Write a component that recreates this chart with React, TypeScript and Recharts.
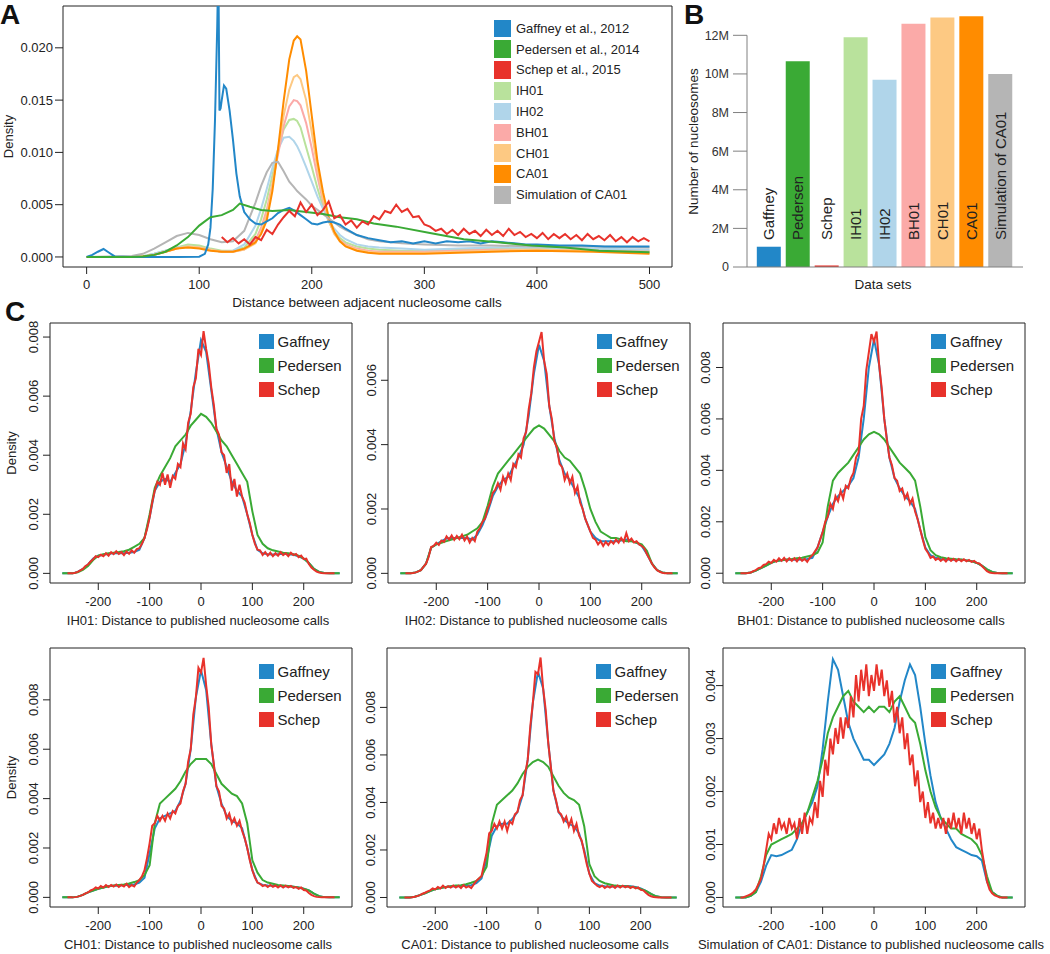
import React from "react";
import {
  LineChart,
  Line,
  XAxis,
  YAxis,
  ReferenceArea,
  ReferenceLine,
  Label,
  BarChart,
  Bar,
  Cell,
  LabelList,
} from "recharts";

const FONT = "'Liberation Sans', Arial, Helvetica, sans-serif";
const INK = "#222";
const AXIS_GRAY = "#808080";

// palette (same order as the data sets)
const BLUE = "#2287c8";
const GREEN = "#3aaa35";
const RED = "#e8322b";
const C_IH01 = "#b9e29c";
const C_IH02 = "#b0d5ea";
const C_BH01 = "#fbaaa8";
const C_CH01 = "#fdc983";
const C_CA01 = "#ff8c00";
const C_SIM = "#b5b5b5";

// ---------- panel A: distance between adjacent calls ----------
const aTicksX = [0, 100, 200, 300, 400, 500];
const aTicksY = [0, 0.005, 0.01, 0.015, 0.02];
const aDomainX: [number, number] = [-21, 520];
const aDomainY: [number, number] = [-0.00096, 0.024];

const aGaffX = [
  0, 5, 10, 15, 20, 25, 40, 60, 80, 100,
  105, 108, 110, 112, 114, 116, 117, 118, 119, 120,
  122, 124, 127, 130, 133, 136, 140, 145, 150, 155,
  160, 165, 170, 175, 180, 185, 190, 195, 200, 205,
  210, 215, 220, 225, 230, 240, 250, 260, 270, 280,
  290, 300, 310, 320, 330, 340, 350, 360, 370, 380,
  390, 400, 420, 440, 460, 480, 500,
];
const aGaffY = [
  0, 0.0002, 0.0005, 0.00076, 0.0004, 0.00005, 0, 0, 0, 0.00002,
  0.0003, 0.0012, 0.0028, 0.0065, 0.013, 0.022, 0.028, 0.014, 0.0142, 0.015,
  0.0164, 0.0161, 0.014, 0.0112, 0.008, 0.0058, 0.0043, 0.0036, 0.0032, 0.0031,
  0.0034, 0.0037, 0.0042, 0.0045, 0.0047, 0.0044, 0.004, 0.0036, 0.0032, 0.0031,
  0.0033, 0.0034, 0.0033, 0.0031, 0.0027, 0.0021, 0.0018, 0.0016, 0.0014, 0.0015,
  0.0013, 0.0015, 0.0013, 0.0015, 0.0014, 0.0015, 0.0013, 0.0015, 0.0014, 0.0013,
  0.0012, 0.0012, 0.0011, 0.0011, 0.001, 0.001, 0.001,
];

const aPedX = [0, 20, 40, 50, 60, 70, 80, 90, 100, 110, 120, 130, 136, 145, 155, 165, 180, 195, 210, 225, 240, 255, 275, 305, 335, 365, 395, 425, 455, 500];
const aPedY = [
  0, 0, 0, 0.00005, 0.0002, 0.0005, 0.0011, 0.0019, 0.003, 0.0038,
  0.004, 0.0045, 0.0051, 0.0048, 0.0045, 0.0044, 0.0045, 0.0043, 0.0041, 0.0038,
  0.0036, 0.0032, 0.0029, 0.0023, 0.0017, 0.0014, 0.0011, 0.0009, 0.0006, 0.00045,
];

const aSchepX = [
  120, 125, 130, 135, 140, 145, 150, 155, 160, 165, 170, 175, 180, 185, 190, 195, 200, 205, 210, 215,
  220, 225, 230, 235, 240, 245, 250, 255, 260, 265, 270, 275, 280, 285, 290, 295, 300, 305, 310, 315,
  320, 325, 330, 335, 340, 345, 350, 355, 360, 365, 370, 375, 380, 385, 390, 395, 400, 405, 410, 415,
  420, 425, 430, 435, 440, 445, 450, 455, 460, 465, 470, 475, 480, 485, 490, 495, 500,
];
const aSchepY = [
  0.0019, 0.0014, 0.0018, 0.0013, 0.0017, 0.0012, 0.0019, 0.0016, 0.0026, 0.0022, 0.0031, 0.0038, 0.0044, 0.0039, 0.0052, 0.0043, 0.005, 0.004, 0.0045, 0.0053,
  0.0037, 0.004, 0.0031, 0.0035, 0.0028, 0.0034, 0.0031, 0.0039, 0.0036, 0.0044, 0.0042, 0.005, 0.0043, 0.0046, 0.0038, 0.0039, 0.0031, 0.0029, 0.0025, 0.0027,
  0.0022, 0.0026, 0.0021, 0.0027, 0.0022, 0.0025, 0.002, 0.0026, 0.0021, 0.0025, 0.002, 0.0027, 0.0021, 0.0024, 0.0019, 0.0022, 0.0018, 0.0023, 0.0017, 0.0022,
  0.0018, 0.0022, 0.0017, 0.0021, 0.0016, 0.0022, 0.0017, 0.002, 0.0016, 0.0021, 0.0015, 0.0019, 0.0014, 0.0019, 0.0015, 0.0018, 0.0015,
];

// shared x grid for the smooth single-peak curves
const aPeakX = [
  0, 40, 50, 60, 70, 80, 90, 100, 110, 120,
  130, 140, 150, 155, 160, 165, 170, 175, 180, 184,
  187, 190, 195, 200, 205, 210, 215, 220, 225, 230,
  240, 250, 260, 280, 300, 330, 360, 400, 450, 500,
];
const aIH01Y = [
  0, 0, 0.00008, 0.0003, 0.0006, 0.0009, 0.0012, 0.0011, 0.0008, 0.0006,
  0.0006, 0.0009, 0.0022, 0.0036, 0.0055, 0.0078, 0.0102, 0.0122, 0.0131, 0.0132,
  0.013, 0.0124, 0.0105, 0.0086, 0.0066, 0.0048, 0.0034, 0.0024, 0.0018, 0.0014,
  0.001, 0.0008, 0.0007, 0.0006, 0.0006, 0.0007, 0.0008, 0.0008, 0.0007, 0.0006,
];
const aIH02Y = [
  0, 0, 0.00008, 0.0003, 0.0006, 0.0009, 0.001, 0.0009, 0.0007, 0.0005,
  0.0006, 0.0012, 0.003, 0.0046, 0.0065, 0.0085, 0.0103, 0.0114, 0.0115, 0.0111,
  0.0106, 0.0099, 0.0086, 0.0072, 0.0058, 0.0046, 0.0035, 0.0027, 0.0021, 0.0017,
  0.0012, 0.001, 0.0009, 0.0008, 0.0007, 0.0008, 0.0009, 0.0009, 0.0008, 0.0007,
];
const aBH01Y = [
  0, 0, 0.00005, 0.0002, 0.0005, 0.0008, 0.001, 0.0009, 0.0007, 0.0005,
  0.0005, 0.0007, 0.0016, 0.0028, 0.0045, 0.007, 0.0098, 0.0125, 0.0144, 0.015,
  0.0149, 0.0145, 0.0128, 0.0104, 0.0077, 0.0053, 0.0035, 0.0023, 0.0016, 0.0012,
  0.0008, 0.0006, 0.0005, 0.0005, 0.0005, 0.0006, 0.0007, 0.0007, 0.0006, 0.0005,
];
const aCH01Y = [
  0, 0, 0.00005, 0.0002, 0.0005, 0.0008, 0.001, 0.0009, 0.0007, 0.0005,
  0.0005, 0.0007, 0.0013, 0.0024, 0.004, 0.0068, 0.0102, 0.0135, 0.016, 0.0172,
  0.0174, 0.017, 0.015, 0.0119, 0.0085, 0.0056, 0.0035, 0.0022, 0.0015, 0.0011,
  0.0007, 0.0005, 0.0004, 0.0004, 0.0004, 0.0005, 0.0006, 0.0007, 0.0006, 0.0004,
];
const aCA01Y = [
  0, 0, 0.00005, 0.0002, 0.0005, 0.0008, 0.0009, 0.0008, 0.0006, 0.0005,
  0.0005, 0.0008, 0.0014, 0.0022, 0.0035, 0.0063, 0.0103, 0.0149, 0.0189, 0.0207,
  0.0211, 0.0208, 0.0178, 0.0135, 0.0092, 0.0062, 0.0038, 0.0024, 0.0015, 0.001,
  0.0006, 0.0004, 0.0003, 0.0003, 0.0003, 0.0004, 0.0005, 0.0006, 0.0005, 0.0003,
];
const aSimY = [
  0, 0.0001, 0.0003, 0.0008, 0.0014, 0.002, 0.0023, 0.0021, 0.0017, 0.0014,
  0.0015, 0.0025, 0.0052, 0.0068, 0.0081, 0.009, 0.0091, 0.0082, 0.0072, 0.0067,
  0.0063, 0.006, 0.0055, 0.0049, 0.0045, 0.0041, 0.0037, 0.0033, 0.0029, 0.0026,
  0.0021, 0.0017, 0.0015, 0.0013, 0.0012, 0.0011, 0.0011, 0.001, 0.001, 0.0009,
];

// ---------- panel B: number of nucleosomes ----------
const bNames = ["Gaffney", "Pedersen", "Schep", "IH01", "IH02", "BH01", "CH01", "CA01", "Simulation of CA01"];
const bCounts = [1.05e6, 10.65e6, 0.08e6, 11.9e6, 9.7e6, 12.6e6, 12.92e6, 12.99e6, 10.0e6];
const bColors = [BLUE, GREEN, RED, C_IH01, C_IH02, C_BH01, C_CH01, C_CA01, C_SIM];
const bTicks = [0, 2e6, 4e6, 6e6, 8e6, 10e6, 12e6];

// ---------- panel C: distance to published calls ----------
const cTicksX = [-200, -100, 0, 100, 200];
const cDomainX: [number, number] = [-294, 294];

const cSmoothX = [
  -270, -260, -250, -240, -230, -220, -210, -200, -190, -180, -170,
  -160, -150, -140, -130, -120, -110, -100, -90, -80, -70, -60,
  -50, -40, -30, -20, -10, 0, 10, 20, 30, 40, 50,
  60, 70, 80, 90, 100, 110, 120, 130, 140, 150, 160,
  170, 180, 190, 200, 210, 220, 230, 240, 250, 260, 270,
];
const cNoisyX = [
  -260, -255, -250, -245, -240, -235, -230, -225, -220, -215, -210, -205, -200, -195, -190, -185, -180, -175, -170, -165, -160,
  -155, -150, -145, -140, -135, -130, -125, -120, -115, -110, -105, -100, -95, -90, -85, -80, -75, -70, -65, -60, -55,
  -50, -45, -40, -35, -30, -25, -20, -15, -10, -5, 0, 5, 10, 15, 20, 25, 30, 35, 40, 45, 50,
  55, 60, 65, 70, 75, 80, 85, 90, 95, 100, 105, 110, 115, 120, 125, 130, 135, 140, 145, 150, 155,
  160, 165, 170, 175, 180, 185, 190, 195, 200, 205, 210, 215, 220, 225, 230, 235, 240, 245, 250, 255, 260,
];

// IH01
const ih01Gaffney = [
  0, 0, 0, 0.00005, 0.00015, 0.0003, 0.0005, 0.0006, 0.00063, 0.00066, 0.00068,
  0.00068, 0.00068, 0.0007, 0.00072, 0.0008, 0.0012, 0.0019, 0.0028, 0.0031, 0.0032, 0.0031,
  0.0034, 0.0037, 0.0044, 0.0055, 0.0068, 0.0079, 0.0075, 0.0062, 0.0049, 0.0041, 0.0036,
  0.0031, 0.0028, 0.0026, 0.002, 0.0013, 0.0008, 0.00068, 0.00065, 0.00064, 0.00065, 0.00066,
  0.00065, 0.00063, 0.00058, 0.0005, 0.00035, 0.00015, 0.00005, 0.00001, 0, 0, 0,
];
const ih01Pedersen = [
  0, 0, 0, 0.00004, 0.00012, 0.00025, 0.00045, 0.0006, 0.00065, 0.00068, 0.0007,
  0.00072, 0.00075, 0.0008, 0.0009, 0.001, 0.0012, 0.002, 0.0029, 0.0033, 0.0036, 0.0039,
  0.0043, 0.0045, 0.0047, 0.005, 0.0052, 0.0054, 0.0053, 0.0051, 0.0048, 0.0045, 0.0043,
  0.004, 0.0037, 0.0034, 0.0031, 0.0021, 0.0013, 0.001, 0.00085, 0.00078, 0.00074, 0.0007,
  0.00068, 0.00065, 0.0006, 0.0005, 0.00035, 0.00015, 0.00005, 0.00001, 0, 0, 0,
];
const ih01Schep = [
  0, 0, 0, 0.00002, 0.00005, 0.0001, 0.00015, 0.00025, 0.0003, 0.0004, 0.00048, 0.00058, 0.00055, 0.00063, 0.00058, 0.00068, 0.0006, 0.00072, 0.00065, 0.00075, 0.00066,
  0.00072, 0.00062, 0.00074, 0.00066, 0.00078, 0.0007, 0.00082, 0.00085, 0.001, 0.0012, 0.0015, 0.0019, 0.0024, 0.0028, 0.0031, 0.003, 0.0034, 0.003, 0.00335, 0.0029, 0.0033,
  0.0032, 0.0037, 0.0036, 0.0044, 0.0042, 0.0051, 0.0054, 0.0063, 0.0066, 0.0076, 0.0074, 0.0082, 0.0076, 0.0071, 0.0063, 0.0057, 0.0049, 0.0047, 0.0041, 0.004, 0.0034,
  0.0037, 0.0028, 0.0032, 0.0026, 0.003, 0.0026, 0.0024, 0.002, 0.0017, 0.0013, 0.001, 0.0008, 0.00078, 0.00062, 0.00072, 0.0006, 0.0007, 0.00058, 0.00068, 0.0006, 0.00072,
  0.00062, 0.00068, 0.00058, 0.0007, 0.00062, 0.00066, 0.00055, 0.0006, 0.00048, 0.0005, 0.00032, 0.0002, 0.00012, 0.00006, 0.00003, 0.00001, 0, 0, 0, 0, 0,
];

// IH02
const ih02Gaffney = [
  0, 0, 0, 0.00003, 0.0001, 0.0003, 0.0008, 0.0009, 0.001, 0.00108, 0.0011,
  0.0011, 0.0011, 0.0011, 0.00105, 0.0012, 0.0015, 0.0019, 0.0024, 0.0027, 0.0029, 0.003,
  0.0033, 0.0036, 0.004, 0.0049, 0.0062, 0.0071, 0.0066, 0.0052, 0.0042, 0.0035, 0.0031,
  0.0029, 0.0026, 0.0023, 0.0017, 0.0013, 0.0011, 0.001, 0.001, 0.001, 0.001, 0.00102,
  0.00105, 0.001, 0.00095, 0.00085, 0.0006, 0.0003, 0.0001, 0.00003, 0, 0, 0,
];
const ih02Pedersen = [
  0, 0, 0, 0.00003, 0.0001, 0.0003, 0.0008, 0.0009, 0.00095, 0.001, 0.00105,
  0.0011, 0.00115, 0.0012, 0.0013, 0.0014, 0.0016, 0.0021, 0.0027, 0.0031, 0.0033, 0.0035,
  0.0037, 0.0039, 0.0041, 0.0043, 0.0045, 0.0046, 0.0045, 0.0043, 0.0041, 0.0038, 0.0036,
  0.0035, 0.0033, 0.0031, 0.0026, 0.002, 0.0016, 0.0013, 0.0012, 0.0011, 0.0011, 0.00105,
  0.001, 0.001, 0.00095, 0.0009, 0.0007, 0.0003, 0.0001, 0.00003, 0, 0, 0,
];
const ih02Schep = [
  0, 0, 0, 0.00001, 0.00003, 0.00006, 0.0001, 0.0002, 0.0003, 0.0005, 0.00082, 0.00085, 0.00095, 0.00088, 0.00102, 0.00098, 0.00115, 0.00105, 0.00118, 0.00104, 0.00116,
  0.00106, 0.0012, 0.00102, 0.00114, 0.00096, 0.0011, 0.001, 0.0013, 0.0014, 0.0016, 0.0017, 0.002, 0.0022, 0.0025, 0.0026, 0.0028, 0.0026, 0.003, 0.0028, 0.0031, 0.0029,
  0.0034, 0.0033, 0.0037, 0.0036, 0.0042, 0.0044, 0.0051, 0.0056, 0.0064, 0.0069, 0.0072, 0.0075, 0.0066, 0.0062, 0.0052, 0.0048, 0.0041, 0.0039, 0.0034, 0.0033, 0.0029,
  0.0031, 0.0028, 0.003, 0.0025, 0.0027, 0.0022, 0.002, 0.0017, 0.0015, 0.0013, 0.0011, 0.00105, 0.0009, 0.001, 0.00085, 0.00098, 0.00088, 0.001, 0.00092, 0.00105, 0.00095,
  0.0011, 0.00098, 0.00125, 0.001, 0.00108, 0.00096, 0.001, 0.0009, 0.00085, 0.00078, 0.0006, 0.00045, 0.0003, 0.00018, 0.0001, 0.00005, 0.00002, 0, 0, 0, 0,
];

// BH01
const bh01Gaffney = [
  0, 0, 0, 0.00003, 0.0001, 0.0002, 0.0003, 0.0004, 0.00048, 0.0005, 0.00052,
  0.00052, 0.00052, 0.00053, 0.00055, 0.0006, 0.001, 0.0016, 0.0022, 0.0027, 0.003, 0.0032,
  0.0034, 0.0037, 0.0045, 0.006, 0.008, 0.0091, 0.0081, 0.006, 0.0045, 0.0037, 0.0033,
  0.003, 0.0028, 0.0025, 0.0017, 0.001, 0.0007, 0.0006, 0.00055, 0.00053, 0.00052, 0.00052,
  0.00052, 0.0005, 0.00047, 0.0004, 0.0003, 0.00015, 0.00005, 0.00001, 0, 0, 0,
];
const bh01Pedersen = [
  0, 0, 0, 0.00003, 0.0001, 0.0002, 0.0003, 0.0004, 0.00048, 0.0005, 0.00053,
  0.00055, 0.00058, 0.0006, 0.00065, 0.0007, 0.0008, 0.0012, 0.0026, 0.0036, 0.0039, 0.0041,
  0.0043, 0.0046, 0.0049, 0.0052, 0.0054, 0.0055, 0.0054, 0.0052, 0.0049, 0.0046, 0.0043,
  0.0041, 0.0039, 0.0036, 0.0026, 0.0014, 0.0009, 0.0007, 0.00062, 0.00058, 0.00056, 0.00054,
  0.00053, 0.0005, 0.00047, 0.0004, 0.0003, 0.00015, 0.00005, 0.00001, 0, 0, 0,
];
const bh01Schep = [
  0, 0, 0, 0.00001, 0.00003, 0.00008, 0.00012, 0.0002, 0.00022, 0.00032, 0.00035, 0.00045, 0.0004, 0.00052, 0.00045, 0.00058, 0.00048, 0.0006, 0.00046, 0.00058, 0.00048,
  0.00058, 0.00046, 0.0006, 0.00048, 0.00056, 0.00044, 0.0006, 0.0007, 0.00085, 0.001, 0.0013, 0.0016, 0.002, 0.0022, 0.0027, 0.0025, 0.003, 0.0028, 0.0032, 0.0029, 0.0034,
  0.0033, 0.0037, 0.0039, 0.0045, 0.0047, 0.006, 0.0065, 0.0079, 0.0086, 0.0093, 0.009, 0.0094, 0.0081, 0.0072, 0.006, 0.0052, 0.0045, 0.0042, 0.0037, 0.0036, 0.0032,
  0.0033, 0.0029, 0.0031, 0.0027, 0.0029, 0.0024, 0.0021, 0.0017, 0.0013, 0.00095, 0.0008, 0.0006, 0.00065, 0.00052, 0.00058, 0.00048, 0.00056, 0.00046, 0.00058, 0.00048, 0.00056,
  0.00046, 0.00055, 0.00047, 0.00054, 0.00046, 0.00052, 0.00044, 0.00048, 0.0004, 0.00038, 0.00028, 0.00018, 0.00008, 0.00003, 0.00001, 0, 0, 0, 0, 0, 0,
];

// CH01
const ch01Gaffney = [
  0, 0, 0, 0.00003, 0.0001, 0.0002, 0.00028, 0.00035, 0.0004, 0.00045, 0.00047,
  0.00048, 0.0005, 0.0005, 0.00052, 0.0006, 0.0008, 0.0018, 0.0028, 0.0032, 0.0033, 0.0034,
  0.0035, 0.0039, 0.0046, 0.006, 0.0081, 0.0092, 0.0084, 0.0062, 0.0045, 0.0038, 0.0033,
  0.0031, 0.003, 0.0028, 0.002, 0.0011, 0.0006, 0.0005, 0.00048, 0.00047, 0.00046, 0.00045,
  0.00045, 0.00043, 0.0004, 0.00035, 0.00028, 0.00015, 0.00005, 0.00001, 0, 0, 0,
];
const ch01Pedersen = [
  0, 0, 0, 0.00003, 0.0001, 0.0002, 0.00028, 0.00035, 0.0004, 0.00045, 0.00048,
  0.0005, 0.00052, 0.00056, 0.00062, 0.0007, 0.0009, 0.0013, 0.003, 0.0038, 0.004, 0.0042,
  0.0044, 0.0047, 0.0051, 0.0054, 0.0056, 0.0056, 0.0056, 0.0054, 0.005, 0.0046, 0.0044,
  0.0042, 0.0041, 0.0038, 0.003, 0.0015, 0.001, 0.0007, 0.0006, 0.00055, 0.0005, 0.00048,
  0.00046, 0.00043, 0.0004, 0.00035, 0.00028, 0.00015, 0.00005, 0.00001, 0, 0, 0,
];
const ch01Schep = [
  0, 0, 0, 0.00001, 0.00003, 0.00006, 0.0001, 0.00016, 0.0002, 0.00028, 0.00032, 0.0004, 0.00036, 0.00046, 0.0004, 0.0005, 0.00042, 0.0005, 0.00044, 0.00052, 0.00042,
  0.0005, 0.00044, 0.00055, 0.00042, 0.0005, 0.00044, 0.0006, 0.0007, 0.00085, 0.0011, 0.0016, 0.0022, 0.0029, 0.003, 0.0033, 0.0031, 0.0033, 0.0031, 0.0034, 0.0032, 0.0035,
  0.0034, 0.0037, 0.0038, 0.0043, 0.0046, 0.0055, 0.006, 0.0074, 0.0081, 0.0093, 0.0091, 0.0097, 0.0086, 0.0077, 0.0062, 0.0054, 0.0045, 0.0043, 0.0037, 0.0036, 0.0032,
  0.0034, 0.003, 0.0032, 0.0029, 0.0031, 0.0027, 0.0024, 0.002, 0.0015, 0.0011, 0.0008, 0.0006, 0.00055, 0.00046, 0.0005, 0.00042, 0.0005, 0.00043, 0.00048, 0.0004, 0.00048,
  0.0004, 0.00047, 0.00041, 0.00046, 0.00038, 0.00042, 0.00035, 0.0004, 0.0003, 0.00028, 0.00018, 0.0001, 0.00005, 0.00002, 0.00001, 0, 0, 0, 0, 0, 0,
];

// CA01
const ca01Gaffney = [
  0, 0, 0, 0.00003, 0.0001, 0.00018, 0.00027, 0.00035, 0.0004, 0.00044, 0.00046,
  0.00047, 0.00048, 0.0005, 0.00052, 0.0006, 0.0008, 0.0016, 0.0026, 0.003, 0.0031, 0.0031,
  0.0033, 0.0036, 0.0043, 0.0058, 0.0082, 0.0095, 0.0088, 0.0065, 0.0045, 0.0036, 0.0033,
  0.0031, 0.003, 0.0027, 0.002, 0.001, 0.0006, 0.0005, 0.00047, 0.00046, 0.00046, 0.00047,
  0.00048, 0.00047, 0.00044, 0.00038, 0.00028, 0.00015, 0.00005, 0.00001, 0, 0, 0,
];
const ca01Pedersen = [
  0, 0, 0, 0.00003, 0.0001, 0.00018, 0.00027, 0.00035, 0.0004, 0.00044, 0.00047,
  0.0005, 0.00052, 0.00056, 0.00062, 0.0007, 0.0009, 0.0013, 0.0031, 0.0039, 0.0041, 0.0043,
  0.0045, 0.0048, 0.0052, 0.0055, 0.0057, 0.0058, 0.0057, 0.0055, 0.0051, 0.0047, 0.0044,
  0.0042, 0.0041, 0.0039, 0.003, 0.0014, 0.0009, 0.0007, 0.0006, 0.00055, 0.0005, 0.00048,
  0.00047, 0.00045, 0.00042, 0.00036, 0.00028, 0.00015, 0.00005, 0.00001, 0, 0, 0,
];
const ca01Schep = [
  0, 0, 0, 0.00001, 0.00003, 0.00006, 0.0001, 0.00016, 0.0002, 0.00026, 0.0003, 0.00038, 0.00034, 0.00044, 0.00038, 0.0005, 0.0004, 0.00048, 0.00042, 0.0005, 0.00042,
  0.00049, 0.0004, 0.00052, 0.00042, 0.00048, 0.0004, 0.00055, 0.0007, 0.0008, 0.0009, 0.0014, 0.0019, 0.0027, 0.0028, 0.0031, 0.0029, 0.0032, 0.0029, 0.0032, 0.0028, 0.0032,
  0.0031, 0.0035, 0.0036, 0.0041, 0.0043, 0.0052, 0.0058, 0.0072, 0.0082, 0.0095, 0.0094, 0.0101, 0.0088, 0.0079, 0.0065, 0.0055, 0.0045, 0.0041, 0.0036, 0.0035, 0.0032,
  0.0034, 0.003, 0.0033, 0.0028, 0.0031, 0.0026, 0.0024, 0.0019, 0.0014, 0.001, 0.0007, 0.0006, 0.0005, 0.00044, 0.0005, 0.0004, 0.00048, 0.00042, 0.00049, 0.0004, 0.0005,
  0.00042, 0.0005, 0.00043, 0.00048, 0.0004, 0.00046, 0.00038, 0.00042, 0.00032, 0.0003, 0.0002, 0.00011, 0.00005, 0.00002, 0.00001, 0, 0, 0, 0, 0, 0,
];

// Simulation of CA01
const simGaffney = [
  0, 0, 0, 0.00003, 0.0001, 0.0003, 0.0006, 0.0008, 0.00078, 0.0008, 0.00085,
  0.0009, 0.0011, 0.0014, 0.0016, 0.0018, 0.0021, 0.0028, 0.0037, 0.0045, 0.0043, 0.0038,
  0.0033, 0.003, 0.0028, 0.0026, 0.0026, 0.0025, 0.0026, 0.0027, 0.0029, 0.0032, 0.0037,
  0.0041, 0.0044, 0.0042, 0.0036, 0.0029, 0.0023, 0.0018, 0.0015, 0.0013, 0.0011, 0.00095,
  0.0009, 0.00085, 0.0008, 0.00078, 0.0007, 0.0003, 0.0001, 0.00003, 0, 0, 0,
];
const simPedersen = [
  0, 0, 0, 0.00003, 0.0001, 0.0004, 0.0008, 0.001, 0.00105, 0.0011, 0.00115,
  0.0012, 0.0013, 0.0014, 0.0016, 0.0019, 0.0022, 0.0026, 0.0031, 0.0034, 0.0036, 0.0038,
  0.0039, 0.0037, 0.0036, 0.0035, 0.0036, 0.0035, 0.0036, 0.0036, 0.0035, 0.0037, 0.0038,
  0.0036, 0.0034, 0.0033, 0.0029, 0.0024, 0.002, 0.0017, 0.0015, 0.0014, 0.0013, 0.0013,
  0.0012, 0.00115, 0.0011, 0.001, 0.0008, 0.0004, 0.0001, 0.00003, 0, 0, 0,
];
const simSchep = [
  0, 0, 0.00002, 0.00004, 0.00006, 0.0001, 0.00015, 0.00025, 0.00035, 0.0006, 0.0009, 0.0012, 0.0011, 0.0014, 0.0012, 0.0015, 0.0013, 0.0014, 0.0012, 0.0015, 0.0013,
  0.0014, 0.0011, 0.0015, 0.0012, 0.0016, 0.0012, 0.0015, 0.0014, 0.0018, 0.0015, 0.0022, 0.0019, 0.0026, 0.0023, 0.003, 0.0027, 0.0032, 0.0029, 0.0034, 0.003, 0.0034,
  0.0032, 0.0038, 0.0034, 0.0042, 0.0037, 0.0043, 0.0039, 0.0044, 0.0038, 0.0042, 0.0039, 0.0044, 0.004, 0.0043, 0.0038, 0.0041, 0.0036, 0.0039, 0.0033, 0.0036, 0.0031,
  0.0034, 0.0028, 0.0031, 0.0025, 0.0027, 0.0021, 0.0024, 0.0018, 0.002, 0.0015, 0.0018, 0.0014, 0.0016, 0.0013, 0.0015, 0.0013, 0.0015, 0.0012, 0.0015, 0.0013, 0.0016,
  0.0013, 0.0015, 0.0012, 0.0016, 0.0013, 0.0015, 0.0012, 0.0014, 0.0011, 0.0013, 0.0009, 0.0006, 0.0003, 0.00015, 0.00008, 0.00004, 0.00002, 0, 0, 0, 0,
];

const pts = (xs: number[], ys: number[]) => xs.map((x, i) => ({ x, y: ys[i] }));

type LegendItem = { name: string; color: string };

function LegendBox({ items, left, top, sq, rowH, gap, fontSize }: {
  items: LegendItem[]; left: number; top: number; sq: number; rowH: number; gap: number; fontSize: number;
}) {
  return (
    <div style={{ position: "absolute", left, top, fontSize, color: INK }}>
      {items.map((it) => (
        <div key={it.name} style={{ display: "flex", alignItems: "center", height: rowH }}>
          <span style={{ width: sq, height: sq, background: it.color, marginRight: gap, flex: "none" }} />
          <span style={{ whiteSpace: "nowrap" }}>{it.name}</span>
        </div>
      ))}
    </div>
  );
}

function PanelLetter({ text, left, top }: { text: string; left: number; top: number }) {
  return (
    <div style={{ position: "absolute", left, top, fontSize: 28, lineHeight: "30px", fontWeight: 700, color: "#111" }}>
      {text}
    </div>
  );
}

function PanelA() {
  const series = [
    { name: "IH01", data: pts(aPeakX, aIH01Y), color: C_IH01 },
    { name: "IH02", data: pts(aPeakX, aIH02Y), color: C_IH02 },
    { name: "BH01", data: pts(aPeakX, aBH01Y), color: C_BH01 },
    { name: "CH01", data: pts(aPeakX, aCH01Y), color: C_CH01 },
    { name: "CA01", data: pts(aPeakX, aCA01Y), color: C_CA01 },
    { name: "Simulation of CA01", data: pts(aPeakX, aSimY), color: C_SIM },
    { name: "Gaffney", data: pts(aGaffX, aGaffY), color: BLUE },
    { name: "Pedersen", data: pts(aPedX, aPedY), color: GREEN },
    { name: "Schep", data: pts(aSchepX, aSchepY), color: RED },
  ];
  const legend: LegendItem[] = [
    { name: "Gaffney et al., 2012", color: BLUE },
    { name: "Pedersen et al., 2014", color: GREEN },
    { name: "Schep et al., 2015", color: RED },
    { name: "IH01", color: C_IH01 },
    { name: "IH02", color: C_IH02 },
    { name: "BH01", color: C_BH01 },
    { name: "CH01", color: C_CH01 },
    { name: "CA01", color: C_CA01 },
    { name: "Simulation of CA01", color: C_SIM },
  ];
  return (
    <div style={{ position: "absolute", left: 0, top: 0 }}>
      <LineChart width={680} height={310} margin={{ top: 6, right: 8, left: 0, bottom: 0 }}>
        <XAxis
          type="number"
          dataKey="x"
          domain={aDomainX}
          ticks={aTicksX}
          allowDataOverflow
          height={43}
          tickSize={7}
          tickMargin={6}
          axisLine={false}
          tickLine={{ stroke: INK }}
          tick={{ fill: INK, fontSize: 13 }}
        >
          <Label
            content={() => (
              <text x={367} y={307} textAnchor="middle" fontSize={13.5} fill={INK}>
                Distance between adjacent nucleosome calls
              </text>
            )}
          />
        </XAxis>
        <YAxis
          type="number"
          domain={aDomainY}
          ticks={aTicksY}
          allowDataOverflow
          width={63}
          tickSize={8}
          tickMargin={2}
          axisLine={false}
          tickLine={{ stroke: INK }}
          tick={{ fill: INK, fontSize: 13 }}
          tickFormatter={(v: number) => v.toFixed(3)}
        >
          <Label
            content={() => (
              <text transform="translate(12.6,136.5) rotate(-90)" textAnchor="middle" fontSize={13} fill={INK}>
                Density
              </text>
            )}
          />
        </YAxis>
        <ReferenceArea
          x1={aDomainX[0]}
          x2={aDomainX[1]}
          y1={aDomainY[0]}
          y2={aDomainY[1]}
          fill="none"
          fillOpacity={0}
          stroke={INK}
          strokeWidth={1}
          ifOverflow="visible"
        />
        {series.map((s) => (
          <Line
            key={s.name}
            data={s.data}
            dataKey="y"
            type="linear"
            stroke={s.color}
            strokeWidth={2}
            dot={false}
            isAnimationActive={false}
          />
        ))}
      </LineChart>
      <LegendBox items={legend} left={493.5} top={18} sq={17.5} rowH={20.8} gap={5} fontSize={13} />
    </div>
  );
}

const BarName = (props: any) => {
  const { x, y, width, height, value } = props;
  const cx = Number(x) + Number(width) / 2 + 5.3;
  const by = Number(y) + Number(height) - 27;
  return (
    <text transform={`translate(${cx},${by}) rotate(-90)`} textAnchor="start" fontSize={15} fill={INK}>
      {value}
    </text>
  );
};

function PanelB() {
  const data = bNames.map((name, i) => ({ pos: i + 1, name, value: bCounts[i] }));
  const positions = data.map((d) => d.pos);
  return (
    <div style={{ position: "absolute", left: 680, top: 0 }}>
      <BarChart width={370} height={300} data={data} margin={{ top: 16, right: 27, left: 0, bottom: 0 }}>
        <XAxis
          type="number"
          dataKey="pos"
          domain={[0.23, 9.77]}
          ticks={positions}
          allowDataOverflow
          tick={false}
          tickLine={false}
          axisLine={{ stroke: AXIS_GRAY }}
          height={33}
        >
          <Label
            content={() => (
              <text x={203} y={288.6} textAnchor="middle" fontSize={13.5} fill={INK}>
                Data sets
              </text>
            )}
          />
        </XAxis>
        <YAxis
          type="number"
          domain={[0, 13e6]}
          ticks={bTicks}
          allowDataOverflow
          width={67}
          axisLine={false}
          tickSize={14}
          tickMargin={4}
          tickLine={{ stroke: AXIS_GRAY }}
          tick={{ fill: "#333", fontSize: 12.5 }}
          tickFormatter={(v: number) => (v === 0 ? "0" : `${v / 1e6}M`)}
        >
          <Label
            content={() => (
              <text transform="translate(17.6,141.5) rotate(-90)" textAnchor="middle" fontSize={13.5} fill={INK}>
                Number of nucleosomes
              </text>
            )}
          />
        </YAxis>
        <ReferenceLine
          segment={[
            { x: 0.23, y: 0 },
            { x: 0.23, y: 12e6 },
          ]}
          stroke={AXIS_GRAY}
          ifOverflow="visible"
        />
        <Bar dataKey="value" barSize={24} isAnimationActive={false}>
          {data.map((d, i) => (
            <Cell key={d.name} fill={bColors[i]} />
          ))}
          <LabelList dataKey="name" content={<BarName />} />
        </Bar>
      </BarChart>
    </div>
  );
}

const RotTick = (props: any) => {
  const { x, y, payload } = props;
  return (
    <text transform={`translate(${x},${y}) rotate(-90)`} textAnchor="middle" fontSize={13} fill={INK}>
      {Number(payload.value).toFixed(3)}
    </text>
  );
};

type CPanelProps = {
  name: string;
  left: number;
  top: number;
  h: number;
  yDomain: [number, number];
  yTicks: number[];
  gaffney: number[];
  pedersen: number[];
  schep: number[];
  density: boolean;
  legendOff: number;
  labelMargin: number;
};

const C_W = 302;

function DistPanel(p: CPanelProps) {
  const legend: LegendItem[] = [
    { name: "Gaffney", color: BLUE },
    { name: "Pedersen", color: GREEN },
    { name: "Schep", color: RED },
  ];
  const series = [
    { key: "g", data: pts(cSmoothX, p.gaffney), color: BLUE },
    { key: "p", data: pts(cSmoothX, p.pedersen), color: GREEN },
    { key: "s", data: pts(cNoisyX, p.schep), color: RED },
  ];
  return (
    <div style={{ position: "absolute", left: p.left - 50, top: p.top - 10 }}>
      <LineChart width={C_W + 60} height={p.h + 60} margin={{ top: 10, right: 10, left: 0, bottom: 0 }}>
        <XAxis
          type="number"
          dataKey="x"
          domain={cDomainX}
          ticks={cTicksX}
          allowDataOverflow
          height={50}
          tickSize={7}
          tickMargin={7}
          axisLine={false}
          tickLine={{ stroke: INK }}
          tick={{ fill: INK, fontSize: 13 }}
        >
          <Label
            content={() => (
              <text x={50 + C_W / 2 - 3} y={10 + p.h + 42} textAnchor="middle" fontSize={13} fill={INK}>
                {`${p.name}: Distance to published nucleosome calls`}
              </text>
            )}
          />
        </XAxis>
        <YAxis
          type="number"
          domain={p.yDomain}
          ticks={p.yTicks}
          allowDataOverflow
          width={50}
          tickSize={7}
          tickMargin={p.labelMargin}
          axisLine={false}
          tickLine={{ stroke: INK }}
          tick={(tp: any) => <RotTick {...tp} />}
        >
          {p.density ? (
            <Label
              content={() => (
                <text transform={`translate(15.6,${10 + p.h / 2}) rotate(-90)`} textAnchor="middle" fontSize={13} fill={INK}>
                  Density
                </text>
              )}
            />
          ) : null}
        </YAxis>
        <ReferenceArea
          x1={cDomainX[0]}
          x2={cDomainX[1]}
          y1={p.yDomain[0]}
          y2={p.yDomain[1]}
          fill="none"
          fillOpacity={0}
          stroke={INK}
          strokeWidth={1}
          ifOverflow="visible"
        />
        {series.map((s) => (
          <Line
            key={s.key}
            data={s.data}
            dataKey="y"
            type="linear"
            stroke={s.color}
            strokeWidth={2}
            dot={false}
            isAnimationActive={false}
          />
        ))}
      </LineChart>
      <LegendBox items={legend} left={50 + C_W - 93.5} top={10 + p.legendOff - 11.9} sq={15} rowH={23.8} gap={4} fontSize={15} />
    </div>
  );
}

const cPanels: CPanelProps[] = [
  { name: "IH01", left: 50, top: 323, h: 260, yDomain: [-0.000326, 0.008476], yTicks: [0, 0.002, 0.004, 0.006, 0.008], gaffney: ih01Gaffney, pedersen: ih01Pedersen, schep: ih01Schep, density: true, legendOff: 19, labelMargin: 5 },
  { name: "IH02", left: 388, top: 323, h: 260, yDomain: [-0.0003, 0.00778], yTicks: [0, 0.002, 0.004, 0.006], gaffney: ih02Gaffney, pedersen: ih02Pedersen, schep: ih02Schep, density: false, legendOff: 19, labelMargin: 5 },
  { name: "BH01", left: 722.5, top: 323, h: 260, yDomain: [-0.00038, 0.00973], yTicks: [0, 0.002, 0.004, 0.006, 0.008], gaffney: bh01Gaffney, pedersen: bh01Pedersen, schep: bh01Schep, density: false, legendOff: 19, labelMargin: 6 },
  { name: "CH01", left: 50, top: 648, h: 259, yDomain: [-0.00039, 0.0101], yTicks: [0, 0.002, 0.004, 0.006, 0.008], gaffney: ch01Gaffney, pedersen: ch01Pedersen, schep: ch01Schep, density: true, legendOff: 24, labelMargin: 5 },
  { name: "CA01", left: 387, top: 648, h: 259, yDomain: [-0.0004, 0.0105], yTicks: [0, 0.002, 0.004, 0.006, 0.008], gaffney: ca01Gaffney, pedersen: ca01Pedersen, schep: ca01Schep, density: false, legendOff: 24, labelMargin: 5 },
  { name: "Simulation of CA01", left: 722.5, top: 648, h: 259, yDomain: [-0.00018, 0.00471], yTicks: [0, 0.001, 0.002, 0.003, 0.004], gaffney: simGaffney, pedersen: simPedersen, schep: simSchep, density: false, legendOff: 24, labelMargin: 1 },
];

export default function App() {
  return (
    <div
      style={{
        position: "absolute",
        left: 0,
        top: 0,
        width: 1050,
        height: 954,
        background: "#fff",
        fontFamily: FONT,
        overflow: "hidden",
      }}
    >
      <style>{`.recharts-surface { overflow: visible; } .recharts-wrapper { overflow: visible !important; }`}</style>
      <PanelA />
      <PanelB />
      {cPanels.map((p) => (
        <DistPanel key={p.name} {...p} />
      ))}
      <PanelLetter text="A" left={0} top={0} />
      <PanelLetter text="B" left={684} top={0} />
      <PanelLetter text="C" left={5} top={297} />
    </div>
  );
}
